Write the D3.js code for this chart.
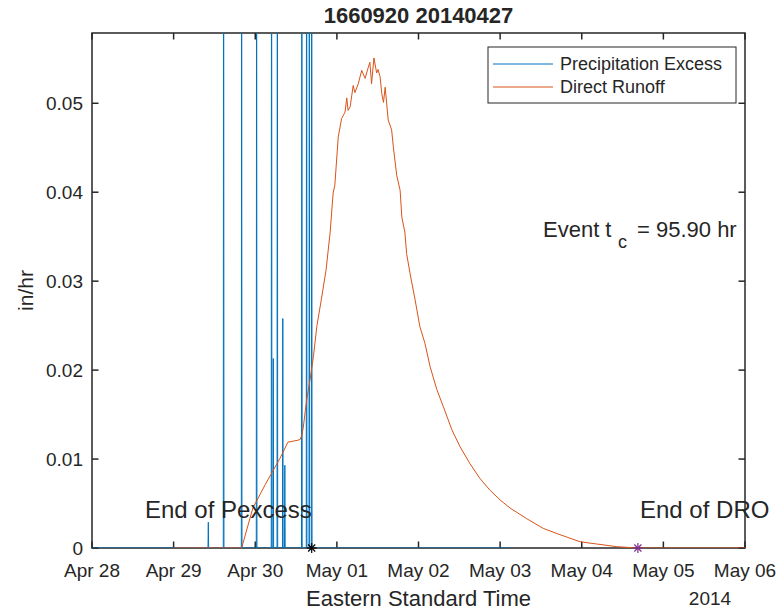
<!DOCTYPE html>
<html lang="en">
<head>
    <meta charset="UTF-8">
    <title>1660920 20140427</title>
    <script src="https://d3js.org/d3.v7.min.js"></script>
    <style>
        body { margin: 0; background: #fff; }
        text { font-family: "Liberation Sans", Arial, Helvetica, sans-serif; fill: #262626; }
        .axis-line { stroke: #262626; stroke-width: 1.5px; fill: none; }
        .tick-line { stroke: #262626; stroke-width: 1.5px; }
    </style>
</head>
<body>
    <div id="chart"></div>
    <script>
        // hours since 2014-04-28 00:00 EST
        const pexHours  = [34.2, 38.7, 44.0, 48.4, 52.8, 53.3, 54.5, 56.1, 56.7, 61.7, 63.1, 63.9, 64.6];
        const pexValues = [0.0029, 0.09, 0.07, 0.08, 0.10, 0.0213, 0.085, 0.0258, 0.0093, 0.09, 0.11, 0.08, 0.10];
        const pexSpan = [0, 122.9];

        const roHours = [24.0, 44.0, 47.3, 50.9, 55.3, 57.6, 60.3, 61.2, 61.7, 62.1, 63.1, 64.1, 65.1, 66.1,
            67.5, 68.8, 70.0, 70.9, 71.4, 72.4, 73.4, 74.4, 74.9, 75.3, 75.9, 76.8, 77.3, 78.3, 79.3, 80.3,
            81.2, 81.7, 82.2, 82.9, 83.7, 84.1, 84.7, 85.2, 85.7, 86.2, 87.1, 88.1, 88.6, 89.6, 90.6, 91.1,
            92.0, 92.5, 93.5, 95.0, 96.4, 97.9, 99.4, 101.4, 103.3, 105.8, 108.2, 111.1, 114.1, 117.0, 120.0,
            122.9, 127.8, 132.7, 137.6, 143.5, 148.4, 154.3, 160.2, 192.0];
        const roValues = [0, 0, 0.0045, 0.0071, 0.0101, 0.0119, 0.0121, 0.0122, 0.0127, 0.0135, 0.0166, 0.0189, 0.0215, 0.0249,
            0.0281, 0.0312, 0.0354, 0.0399, 0.0408, 0.0462, 0.0483, 0.0490, 0.0506, 0.0492, 0.0496, 0.0520, 0.0512, 0.0522, 0.0537, 0.0528,
            0.0540, 0.0546, 0.0522, 0.0551, 0.0534, 0.0538, 0.0530, 0.0511, 0.0501, 0.0518, 0.0481, 0.0470, 0.0451, 0.0419, 0.0402, 0.0372,
            0.0355, 0.0331, 0.0309, 0.0279, 0.0249, 0.0230, 0.0204, 0.0178, 0.0159, 0.0133, 0.0114, 0.0095, 0.0078, 0.0065, 0.0054,
            0.0045, 0.0033, 0.0022, 0.0015, 0.0007, 0.00045, 0.00015, 0, 0];

        const endPexHour = 64.6;
        const endDroHour = 160.5;
        const tcText = '95.90';
        const yTicks = [0, 0.01, 0.02, 0.03, 0.04, 0.05];

        const W = 780, H = 613;
        const margin = { top: 33, right: 35, bottom: 65, left: 92 };

        const t0 = Date.UTC(2014, 3, 28);
        const toDate = h => new Date(t0 + h * 3600e3);

        const svg = d3.select('#chart').append('svg')
            .attr('width', W)
            .attr('height', H);

        const x = d3.scaleUtc()
            .domain([new Date(t0), new Date(Date.UTC(2014, 4, 6))])
            .range([margin.left, W - margin.right]);

        const y = d3.scaleLinear()
            .domain([0, 0.0579])
            .range([H - margin.bottom, margin.top]);

        svg.append('clipPath').attr('id', 'clip')
            .append('rect')
            .attr('x', margin.left).attr('y', margin.top)
            .attr('width', W - margin.left - margin.right)
            .attr('height', H - margin.top - margin.bottom);

        // box + ticks (inside, on all four sides)
        const x0 = margin.left, x1 = W - margin.right, y0 = H - margin.bottom, y1 = margin.top;
        const tl = 6.5;
        svg.append('rect').attr('class', 'axis-line')
            .attr('x', x0).attr('y', y1).attr('width', x1 - x0).attr('height', y0 - y1);

        const xTicks = d3.utcDay.range(new Date(t0), new Date(Date.UTC(2014, 4, 6, 1)));
        const fmt = d3.utcFormat('%b %d');
        xTicks.forEach(d => {
            const px = x(d);
            svg.append('line').attr('class', 'tick-line').attr('x1', px).attr('x2', px).attr('y1', y0).attr('y2', y0 - tl);
            svg.append('line').attr('class', 'tick-line').attr('x1', px).attr('x2', px).attr('y1', y1).attr('y2', y1 + tl);
            svg.append('text').attr('x', px).attr('y', 577)
                .attr('text-anchor', 'middle').style('font-size', '19px').text(fmt(d));
        });
        yTicks.forEach(v => {
            const py = y(v);
            svg.append('line').attr('class', 'tick-line').attr('x1', x0).attr('x2', x0 + tl).attr('y1', py).attr('y2', py);
            svg.append('line').attr('class', 'tick-line').attr('x1', x1).attr('x2', x1 - tl).attr('y1', py).attr('y2', py);
            svg.append('text').attr('x', 83).attr('y', py).attr('dy', '0.35em')
                .attr('text-anchor', 'end').style('font-size', '19px').text(v === 0 ? '0' : v.toFixed(2));
        });

        // data
        const line = d3.line().x(d => x(toDate(d[0]))).y(d => y(d[1]));
        const plot = svg.append('g').attr('clip-path', 'url(#clip)');

        const pexPts = [[pexSpan[0], 0]];
        pexHours.forEach((h, i) => {
            pexPts.push([h - 0.1, 0], [h, pexValues[i]], [h + 0.1, 0]);
        });
        pexPts.push([pexSpan[1], 0]);

        plot.append('path')
            .attr('d', line(pexPts))
            .attr('fill', 'none')
            .attr('stroke', '#0072BD')
            .attr('stroke-width', 1);

        plot.append('path')
            .attr('d', line(roHours.map((h, i) => [h, roValues[i]])))
            .attr('fill', 'none')
            .attr('stroke', '#D95319')
            .attr('stroke-width', 1);

        // asterisk markers
        function asterisk(cx, cy, r, color) {
            const g = svg.append('g').attr('stroke', color).attr('stroke-width', 1.2);
            [0, 45, 90, 135].forEach(a => {
                const rad = a * Math.PI / 180;
                g.append('line')
                    .attr('x1', cx - r * Math.cos(rad)).attr('y1', cy - r * Math.sin(rad))
                    .attr('x2', cx + r * Math.cos(rad)).attr('y2', cy + r * Math.sin(rad));
            });
        }
        asterisk(x(toDate(endPexHour)), y(0), 5, '#000');
        asterisk(x(toDate(endDroHour)), y(0), 5, '#7E2F8E');

        // annotations
        svg.append('text').attr('x', 145).attr('y', 518).style('font-size', '24px').text('End of Pexcess');
        svg.append('text').attr('x', 640).attr('y', 518).style('font-size', '24px').text('End of DRO');

        const ev = svg.append('text').attr('y', 237).style('font-size', '22px');
        ev.append('tspan').attr('x', 543).text('Event t');
        ev.append('tspan').attr('x', 618).attr('y', 248).style('font-size', '18px').text('c');
        ev.append('tspan').attr('x', 637).attr('y', 237).text(`= ${tcText} hr`);

        // legend
        const lg = svg.append('g');
        lg.append('rect').attr('x', 488).attr('y', 47).attr('width', 248).attr('height', 56)
            .attr('fill', '#fff').attr('stroke', '#262626').attr('stroke-width', 1);
        [['Precipitation Excess', '#0072BD', 64], ['Direct Runoff', '#D95319', 87]].forEach(([name, c, ly]) => {
            lg.append('line').attr('x1', 493).attr('x2', 553).attr('y1', ly).attr('y2', ly)
                .attr('stroke', c).attr('stroke-width', 1);
            lg.append('text').attr('x', 560).attr('y', ly).attr('dy', '0.35em')
                .style('font-size', '18px').text(name);
        });

        // titles
        svg.append('text').attr('x', (x0 + x1) / 2).attr('y', 23).attr('text-anchor', 'middle')
            .style('font-size', '22px').style('font-weight', 'bold').text('1660920 20140427');
        svg.append('text').attr('x', (x0 + x1) / 2).attr('y', 606).attr('text-anchor', 'middle')
            .style('font-size', '22px').text('Eastern Standard Time');
        svg.append('text').attr('x', 710).attr('y', 605).attr('text-anchor', 'middle')
            .style('font-size', '19px').text('2014');
        svg.append('text').attr('transform', `translate(33, ${(y0 + y1) / 2}) rotate(-90)`)
            .attr('text-anchor', 'middle').style('font-size', '21px').text('in/hr');
    </script>
</body>
</html>
